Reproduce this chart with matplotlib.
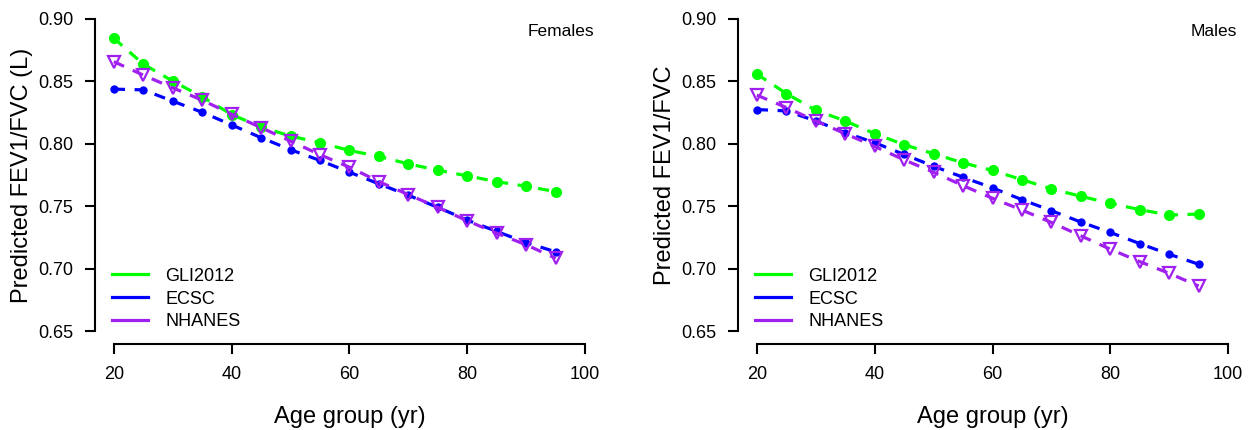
import matplotlib
matplotlib.use("Agg")
import matplotlib.pyplot as plt

plt.rcParams['font.family'] = ['Liberation Sans', 'DejaVu Sans']

age = [20, 25, 30, 35, 40, 45, 50, 55, 60, 65, 70, 75, 80, 85, 90, 95]

fem_gli = [0.8842, 0.8636, 0.8500, 0.8374, 0.8233, 0.8133, 0.8061, 0.8008,
           0.7946, 0.7898, 0.7839, 0.7788, 0.7743, 0.7697, 0.7660, 0.7617]
fem_ecsc = [0.8436, 0.8430, 0.8340, 0.8251, 0.8150, 0.8048, 0.7952, 0.7866,
            0.7772, 0.7679, 0.7588, 0.7491, 0.7390, 0.7299, 0.7210, 0.7136]
fem_nhanes = [0.8655, 0.8548, 0.8446, 0.8348, 0.8235, 0.8128, 0.8021, 0.7912,
              0.7812, 0.7697, 0.7593, 0.7491, 0.7384, 0.7285, 0.7192, 0.7085]

male_gli = [0.8556, 0.8401, 0.8267, 0.8182, 0.8080, 0.7992, 0.7920, 0.7847,
            0.7786, 0.7713, 0.7639, 0.7580, 0.7524, 0.7473, 0.7430, 0.7438]
male_ecsc = [0.8273, 0.8262, 0.8182, 0.8088, 0.8008, 0.7914, 0.7820, 0.7732,
             0.7647, 0.7553, 0.7465, 0.7374, 0.7291, 0.7202, 0.7117, 0.7037]
male_nhanes = [0.8388, 0.8289, 0.8182, 0.8080, 0.7978, 0.7871, 0.7772, 0.7665,
               0.7564, 0.7470, 0.7371, 0.7264, 0.7157, 0.7058, 0.6964, 0.6863]

series_names = ["GLI2012", "ECSC", "NHANES"]
colors = ["#00FF00", "#0000FF", "#A020F0"]
xticks = [20, 40, 60, 80, 100]
yticks = [0.65, 0.70, 0.75, 0.80, 0.85, 0.90]
ytick_labels = ["0.65", "0.70", "0.75", "0.80", "0.85", "0.90"]

fig = plt.figure(figsize=(12.5, 4.3), dpi=100)
ax1 = fig.add_axes([95/1250, 86/430, 509/1250, 338/430])
ax2 = fig.add_axes([738/1250, 86/430, 509/1250, 338/430])

panels = [
    (ax1, fem_gli, fem_ecsc, fem_nhanes, "Females", "Predicted FEV1/FVC (L)"),
    (ax2, male_gli, male_ecsc, male_nhanes, "Males", "Predicted FEV1/FVC"),
]

for ax, g, e, n, title, ylab in panels:
    lw = 2.3
    dash = (3.5, 3.0)
    ax.plot(age, g, color=colors[0], lw=lw, dashes=dash, marker='o',
            markersize=8, markeredgewidth=0, zorder=3)
    ax.plot(age, e, color=colors[1], lw=lw, dashes=dash, marker='o',
            markersize=6, markeredgewidth=0, zorder=4)
    ax.plot(age, n, color=colors[2], lw=lw, dashes=dash, marker='v',
            markersize=8, markerfacecolor='none', markeredgewidth=1.6,
            markeredgecolor=colors[2], zorder=5)
    # legend handles (solid lines, no markers)
    handles = [plt.Line2D([], [], color=c, lw=2.3) for c in colors]
    ax.legend(handles, series_names, loc='lower left',
              bbox_to_anchor=(0.033, 0.04), frameon=False, fontsize=13,
              handlelength=2.0, handletextpad=0.95, labelspacing=0.33,
              borderaxespad=0, borderpad=0)
    ax.text(0.981, 0.926, title, transform=ax.transAxes, ha='right',
            va='center', fontsize=12.5)

    ax.set_xlim(16.8, 103.2)
    ax.set_ylim(0.64, 0.91)
    ax.set_xticks(xticks)
    ax.set_xticklabels([str(t) for t in xticks])
    ax.set_yticks(yticks)
    ax.set_yticklabels(ytick_labels)
    for s in ['top', 'right']:
        ax.spines[s].set_visible(False)
    ax.spines['left'].set_bounds(0.65, 0.90)
    ax.spines['bottom'].set_bounds(20, 100)
    for s in ['left', 'bottom']:
        ax.spines[s].set_linewidth(1.5)
    ax.tick_params(axis='both', length=7.5, width=1.5, labelsize=13,
                   direction='out')
    ax.tick_params(axis='x', pad=8)
    ax.tick_params(axis='y', pad=8)
    ax.set_xlabel("Age group (yr)", fontsize=17, labelpad=17)
    ax.set_ylabel(ylab, fontsize=17, labelpad=4)

fig.savefig("out.png", dpi=100)
